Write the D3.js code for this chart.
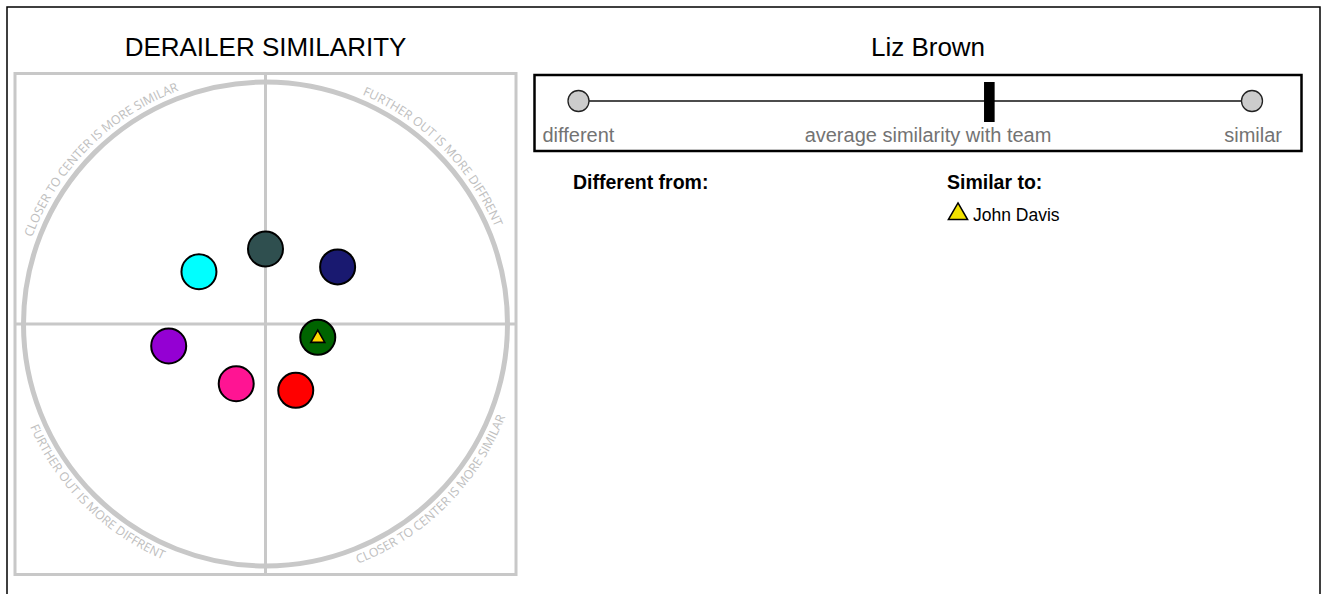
<!DOCTYPE html>
<html>
<head>
<meta charset="utf-8">
<script src="https://cdn.jsdelivr.net/npm/d3@7"></script>
<style>
  body { margin: 0; background: #fff; }
  svg { display: block; font-family: "Liberation Sans", Arial, sans-serif; }
</style>
</head>
<body>
<div id="chart"></div>
<script>
// team members plotted on the similarity map (x, y in -1..1, circle radius = 1)
var memberColors = ["#2f4f4f", "#00ffff", "#191970", "#9400d3", "#006400", "#ff1493", "#ff0000"];
var memberX      = [0.00, -0.275, 0.298, -0.400, 0.216, -0.121, 0.125];
var memberY      = [0.31,  0.216, 0.236, -0.091, -0.055, -0.247, -0.274];
var memberMarker = [null, null, null, null, "triangle", null, null];

// corner captions, by quadrant centre angle (degrees, math orientation)
var captionText  = ["FURTHER OUT IS MORE DIFFRENT", "CLOSER TO CENTER IS MORE SIMILAR",
                    "FURTHER OUT IS MORE DIFFRENT", "CLOSER TO CENTER IS MORE SIMILAR"];
var captionAngle = [45, 135, 225, 315];

// slider
var personName = "Liz Brown";
var averageSimilarity = 0.61;   // 0 = different, 1 = similar
var sliderLabels = ["different", "average similarity with team", "similar"];

var differentFrom = [];
var similarTo = ["John Davis"];

var W = 1323, H = 594;
var svg = d3.select("#chart").append("svg")
    .attr("width", W)
    .attr("height", H);

// page border
svg.append("rect")
    .attr("x", 7).attr("y", 7)
    .attr("width", 1313).attr("height", 620)
    .attr("fill", "none")
    .attr("stroke", "#000")
    .attr("stroke-width", 1.5);

// ---------- left: similarity map ----------
var cx = 265.5, cy = 324, r = 242, half = 250.5;
var grey = "#c8c8c8";

var x = d3.scaleLinear().domain([-1, 1]).range([cx - r, cx + r]);
var y = d3.scaleLinear().domain([-1, 1]).range([cy + r, cy - r]);

svg.append("text")
    .attr("x", cx).attr("y", 56)
    .attr("text-anchor", "middle")
    .style("font-size", "26px")
    .text("DERAILER SIMILARITY");

var map = svg.append("g");

map.append("rect")
    .attr("x", cx - half).attr("y", cy - half)
    .attr("width", half * 2).attr("height", half * 2)
    .attr("fill", "none")
    .attr("stroke", grey)
    .attr("stroke-width", 3);

map.append("line")
    .attr("x1", x(0)).attr("x2", x(0))
    .attr("y1", cy - half).attr("y2", cy + half)
    .attr("stroke", grey).attr("stroke-width", 3);

map.append("line")
    .attr("x1", cx - half).attr("x2", cx + half)
    .attr("y1", y(0)).attr("y2", y(0))
    .attr("stroke", grey).attr("stroke-width", 3);

map.append("circle")
    .attr("cx", x(0)).attr("cy", y(0))
    .attr("r", r)
    .attr("fill", "none")
    .attr("stroke", grey)
    .attr("stroke-width", 5);

// arc paths for the captions
function pt(R, deg) {
    var a = deg * Math.PI / 180;
    return [x(0) + R * Math.cos(a), y(0) - R * Math.sin(a)];
}
var defs = svg.append("defs");
captionAngle.forEach(function(ang, i) {
    var top = ang < 180;
    var R = top ? 249 : 257;
    var p0, p1, sweep;
    if (top) { p0 = pt(R, ang + 45); p1 = pt(R, ang - 45); sweep = 1; }
    else     { p0 = pt(R, ang - 45); p1 = pt(R, ang + 45); sweep = 0; }
    defs.append("path")
        .attr("id", "cap" + i)
        .attr("d", "M" + p0 + " A" + R + "," + R + " 0 0," + sweep + " " + p1);
});

map.selectAll("text.caption")
    .data(captionText)
    .enter()
    .append("text")
        .attr("class", "caption")
        .style("font-family", "'Open Sans', sans-serif")
        .style("font-size", "12.3px")
        .style("fill", "#bebebe")
    .append("textPath")
        .attr("href", function(d, i) { return "#cap" + i; })
        .attr("startOffset", "50%")
        .attr("text-anchor", "middle")
        .text(function(d) { return d; });

// member dots
var members = memberColors.map(function(c, i) {
    return { color: c, x: memberX[i], y: memberY[i], marker: memberMarker[i] };
});

map.selectAll("circle.member")
    .data(members)
    .enter()
    .append("circle")
        .attr("class", "member")
        .attr("cx", function(d) { return x(d.x); })
        .attr("cy", function(d) { return y(d.y); })
        .attr("r", 17.5)
        .attr("fill", function(d) { return d.color; })
        .attr("stroke", "#000")
        .attr("stroke-width", 2);

var tri = d3.symbol().type(d3.symbolTriangle);

map.selectAll("path.marker")
    .data(members.filter(function(d) { return d.marker; }))
    .enter()
    .append("path")
        .attr("class", "marker")
        .attr("d", tri.size(85))
        .attr("transform", function(d) { return "translate(" + x(d.x) + "," + (y(d.y) + 1) + ")"; })
        .attr("fill", "#ffd700")
        .attr("stroke", "#000")
        .attr("stroke-width", 1.6);

// ---------- right: slider and lists ----------
var sx = d3.scaleLinear().domain([0, 1]).range([578.5, 1252]);
var sliderY = 101;

svg.append("text")
    .attr("x", 928).attr("y", 56)
    .attr("text-anchor", "middle")
    .style("font-size", "26px")
    .text(personName);

svg.append("rect")
    .attr("x", 534.5).attr("y", 75)
    .attr("width", 767).attr("height", 76)
    .attr("fill", "none")
    .attr("stroke", "#000")
    .attr("stroke-width", 2.5);

svg.append("line")
    .attr("x1", sx(0)).attr("x2", sx(1))
    .attr("y1", sliderY).attr("y2", sliderY)
    .attr("stroke", "#111").attr("stroke-width", 1.3);

svg.selectAll("circle.end")
    .data([0, 1])
    .enter()
    .append("circle")
        .attr("class", "end")
        .attr("cx", function(d) { return sx(d); })
        .attr("cy", sliderY)
        .attr("r", 10.5)
        .attr("fill", "#cccccc")
        .attr("stroke", "#222")
        .attr("stroke-width", 1.3);

svg.append("rect")
    .attr("x", sx(averageSimilarity) - 5.3)
    .attr("y", 82)
    .attr("width", 10.6)
    .attr("height", 40)
    .attr("fill", "#000");

svg.selectAll("text.slabel")
    .data(sliderLabels)
    .enter()
    .append("text")
        .attr("class", "slabel")
        .attr("x", function(d, i) { return [542.5, 928, 1282][i]; })
        .attr("y", 142)
        .attr("text-anchor", function(d, i) { return ["start", "middle", "end"][i]; })
        .style("font-size", "20px")
        .style("fill", "#737373")
        .text(function(d) { return d; });

svg.append("text")
    .attr("x", 573).attr("y", 189)
    .style("font-size", "19.5px")
    .style("font-weight", "bold")
    .text("Different from:");

svg.append("text")
    .attr("x", 947).attr("y", 189)
    .style("font-size", "19.5px")
    .style("font-weight", "bold")
    .text("Similar to:");

var simRows = svg.selectAll("g.sim")
    .data(similarTo)
    .enter()
    .append("g")
        .attr("class", "sim")
        .attr("transform", function(d, i) { return "translate(958," + (214 + i * 28) + ")"; });

simRows.append("path")
    .attr("d", tri.size(160))
    .attr("fill", "#f2e200")
    .attr("stroke", "#000")
    .attr("stroke-width", 1.5);

simRows.append("text")
    .attr("x", 15).attr("y", 7)
    .style("font-size", "17.5px")
    .text(function(d) { return d; });

differentFrom.forEach(function(d, i) {
    svg.append("text")
        .attr("x", 585).attr("y", 222 + i * 28)
        .style("font-size", "17.5px")
        .text(d);
});
</script>
</body>
</html>
